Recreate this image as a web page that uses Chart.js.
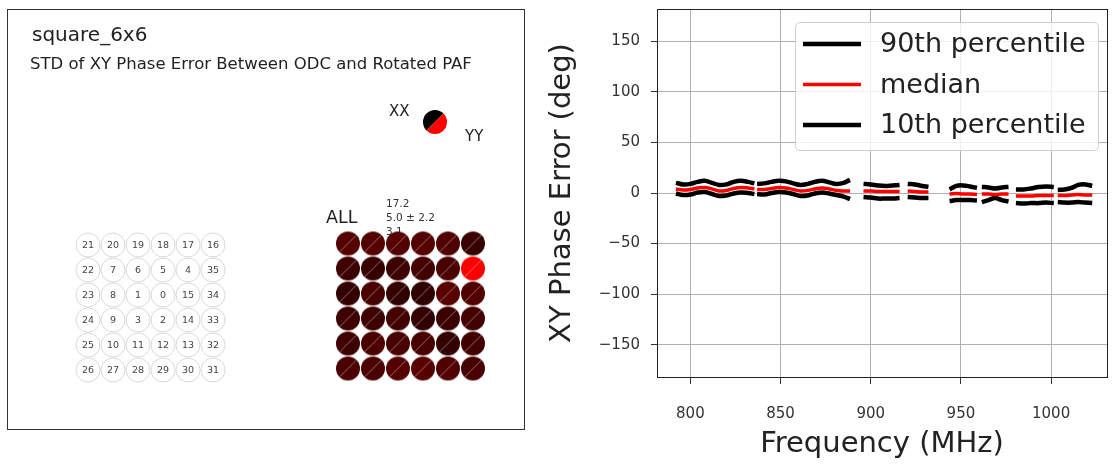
<!DOCTYPE html>
<html><head><meta charset="utf-8">
<script src="https://cdn.jsdelivr.net/npm/chart.js@4.4.0/dist/chart.umd.min.js"></script>
<style>
html,body{margin:0;padding:0;background:#fff;}
#wrap{position:relative;width:1113px;height:464px;overflow:hidden;}
#left{position:absolute;left:0;top:0;width:540px;height:464px;}
#right{position:absolute;left:540px;top:0;width:573px;height:464px;}
</style></head><body>
<div id="wrap"><div id="left"><canvas id="c1"></canvas></div><div id="right"><canvas id="c2"></canvas></div></div>
<script>
// ---------------- data ----------------
const panelTitle = 'square_6x6';
const panelSubtitle = 'STD of XY Phase Error Between ODC and Rotated PAF';
const polLabels = ['XX', 'YY'];
const allLabel = 'ALL';
const allStats = ['17.2', '5.0 \u00b1 2.2', '3.1'];
const gridLabels = [21,20,19,18,17,16, 22,7,6,5,4,35, 23,8,1,0,15,34, 24,9,3,2,14,33, 25,10,11,12,13,32, 26,27,28,29,30,31];
const xxStd = [5.7,5.6,5.8,5.7,5.5,3.9, 4.3,3.9,4.1,4.7,5.0,17.2, 3.4,5.0,3.5,3.1,6.1,5.4, 4.1,4.3,4.7,3.5,3.9,4.7, 4.3,5.0,4.7,5.0,3.6,4.3, 5.0,5.2,5.7,6.1,5.4,4.7];
const yyStd = [5.9,5.8,5.6,5.9,5.3,3.7, 4.1,3.7,4.3,4.5,5.2,17.0, 3.6,4.8,3.3,3.3,5.9,5.6, 4.3,4.1,4.5,3.3,4.1,4.5, 4.1,5.2,4.9,4.8,3.4,4.5, 5.2,5.0,5.9,5.9,5.6,4.9];

const freq = [792,796,800,804,808,812,816,820,824,828,832,835.5, 836.3,
  837,841,845,849,853,857,861,865,869,873,877,881,885,888.5, 892,
  896,900,904,908,912,916, 918,
  920.5,924.5,928.5,932, 938,
  943.7,947.5,951.3,955.1,958.9, 960.3,
  961.6,965.3,969,972.7,976.4, 978.5,
  980.5,984.7,988.9,993.1,997.3,1001.5, 1002.6,
  1003.7,1007.5,1011.3,1015.1,1018.9,1022.8];
const p90 = [10,8.5,9,11,12,10,8,8.5,11,12,11,9.5, null,
  9,9.5,11,12,11.5,9.5,8,9,11,12,10.5,9,10,13, null,
  9,8.5,7.5,7,7.5,8, null,
  9,8.5,7,6, null,
  3.5,7,7.5,6.5,5, null,
  6,5.5,4.5,5.5,6, null,
  3.5,3.5,4.5,6,6.5,6, null,
  3,3.5,5,8,8.5,7];
const median = [4,3,3.5,5,5.5,4,2,2.5,4.5,5.5,5,4, null,
  3.5,3.5,4.5,5.5,5,3.5,2,2.5,4,5,4,2.5,2,2, null,
  2,2,1.5,1.5,1.5,1.5, null,
  2,1.5,1,1, null,
  -1,-0.5,-1,-1,-1.5, null,
  -1,-1,-1.5,-1,-1, null,
  -3,-3,-3,-2.5,-2.5,-2.5, null,
  -2.5,-2.5,-2,-1.5,-2,-2];
const p10 = [-0.5,-2,-1.5,0.5,1,-1,-3,-2.5,-0.5,0.5,0,-1, null,
  -1,-1.5,0,1,0.5,-1,-3,-2.5,-0.5,0.5,-0.5,-2,-3.5,-6, null,
  -4,-4.5,-5.5,-5.5,-5.5,-5, null,
  -4,-4.5,-5,-5, null,
  -8,-7,-7,-7,-7.5, null,
  -9,-7,-5,-7,-8.5, null,
  -10,-10.5,-10,-10,-9.5,-10, null,
  -9,-9.5,-9.5,-9,-9.5,-10];
const seriesNames = ['90th percentile', 'median', '10th percentile'];
const seriesColors = ['#000000', '#ff0000', '#000000'];
const xTicks = [800, 850, 900, 950, 1000];
const yTicks = [-150, -100, -50, 0, 50, 100, 150];
const xTitle = 'Frequency (MHz)';
const yTitle = 'XY Phase Error (deg)';

// ---------------- helpers ----------------
const FONT = 'DejaVu Sans';
Chart.defaults.font.family = FONT;
const vmax = Math.max(...xxStd, ...yyStd);
function heat(v) { const r = Math.round(255 * v / vmax); return 'rgb(' + r + ',0,0)'; }
function splitDisc(c1, c2, r, sep) {
  const s = 2 * r + 2; const cv = document.createElement('canvas'); cv.width = s; cv.height = s;
  const g = cv.getContext('2d'); const c = s / 2;
  g.fillStyle = c1; g.beginPath(); g.moveTo(c, c); g.arc(c, c, r, 0.75 * Math.PI, 1.75 * Math.PI); g.closePath(); g.fill();
  g.fillStyle = c2; g.beginPath(); g.moveTo(c, c); g.arc(c, c, r, -0.25 * Math.PI, 0.75 * Math.PI); g.closePath(); g.fill();
  if (sep) { g.strokeStyle = sep; g.lineWidth = 0.8; g.beginPath(); g.moveTo(c - r * 0.7071, c + r * 0.7071); g.lineTo(c + r * 0.7071, c - r * 0.7071); g.stroke(); }
  return cv;
}

// ---------------- left panel ----------------
const cols = 6;
const rightOffset = 10.4;
const leftPts = gridLabels.map((_, i) => ({ x: i % cols, y: Math.floor(i / cols) }));
const rightPts = gridLabels.map((_, i) => ({ x: i % cols + rightOffset, y: Math.floor(i / cols) - 0.06 }));
const discImgs = xxStd.map((v, i) => splitDisc(heat(v), heat(yyStd[i]), 12, 'rgba(255,255,255,0.25)'));
const keyDisc = splitDisc('#000', '#ff0000', 12, null);

const leftDecor = {
  id: 'leftDecor',
  beforeDatasetsDraw(chart) {
    const ctx = chart.ctx;
    ctx.save();
    ctx.strokeStyle = '#333'; ctx.lineWidth = 1;
    ctx.strokeRect(7.5, 9.5, 517, 420);
    ctx.fillStyle = '#222'; ctx.textBaseline = 'alphabetic'; ctx.textAlign = 'left';
    ctx.font = '20px "' + FONT + '"'; ctx.fillText(panelTitle, 32, 41);
    ctx.font = '16.5px "' + FONT + '"'; ctx.fillText(panelSubtitle, 30, 69);
    ctx.font = '15px "' + FONT + '"'; ctx.fillText(polLabels[0], 389, 116);
    ctx.fillText(polLabels[1], 465, 141);
    ctx.font = '17.5px "' + FONT + '"'; ctx.fillText(allLabel, 326, 223);
    ctx.font = '10.5px "' + FONT + '"'; ctx.fillStyle = '#333'; ctx.textBaseline = 'middle';
    allStats.forEach((t, i) => ctx.fillText(t, 386, 204 + i * 14));
    ctx.restore();
  },
  afterDatasetsDraw(chart) {
    const ctx = chart.ctx;
    ctx.save();
    ctx.font = '9.5px "' + FONT + '"'; ctx.fillStyle = '#444';
    ctx.textAlign = 'center'; ctx.textBaseline = 'middle';
    chart.getDatasetMeta(0).data.forEach((pt, i) => ctx.fillText(String(gridLabels[i]), pt.x, pt.y + 0.5));
    const kx = chart.scales.x.getPixelForValue(13.88), ky = chart.scales.y.getPixelForValue(-4.92);
    ctx.drawImage(keyDisc, kx - keyDisc.width / 2, ky - keyDisc.height / 2);
    ctx.restore();
  }
};

new Chart(document.getElementById('c1'), {
  type: 'scatter',
  data: { datasets: [
    { label: 'element', data: leftPts, pointRadius: 12, pointHoverRadius: 12, pointBackgroundColor: '#ffffff', pointBorderColor: '#d8d8d8', pointBorderWidth: 1 },
    { label: 'XX / YY STD', data: rightPts, pointStyle: discImgs, pointRadius: 12, pointHoverRadius: 12 }
  ] },
  options: {
    responsive: true, maintainAspectRatio: false, animation: false, devicePixelRatio: 1, events: [],
    layout: { padding: 0, autoPadding: false },
    plugins: { legend: { display: false }, tooltip: { enabled: false } },
    scales: {
      x: { type: 'linear', display: false, min: -3.52, max: 18.08 },
      y: { type: 'linear', display: false, min: -9.8, max: 8.76, reverse: true }
    }
  },
  plugins: [leftDecor]
});

// ---------------- right panel ----------------
const mk = arr => freq.map((f, i) => ({ x: f, y: arr[i] }));
const rightDecor = {
  id: 'rightDecor',
  afterDraw(chart) {
    const ctx = chart.ctx, a = chart.chartArea;
    ctx.save();
    ctx.strokeStyle = '#222'; ctx.lineWidth = 1;
    ctx.strokeRect(Math.round(a.left) + 0.5, Math.round(a.top) + 0.5, Math.round(a.right - a.left), Math.round(a.bottom - a.top));
    // legend
    const bx = 255.5, by = 22.5, bw = 303, bh = 128, r = 5;
    ctx.beginPath();
    ctx.moveTo(bx + r, by); ctx.lineTo(bx + bw - r, by); ctx.quadraticCurveTo(bx + bw, by, bx + bw, by + r);
    ctx.lineTo(bx + bw, by + bh - r); ctx.quadraticCurveTo(bx + bw, by + bh, bx + bw - r, by + bh);
    ctx.lineTo(bx + r, by + bh); ctx.quadraticCurveTo(bx, by + bh, bx, by + bh - r);
    ctx.lineTo(bx, by + r); ctx.quadraticCurveTo(bx, by, bx + r, by); ctx.closePath();
    ctx.fillStyle = 'rgba(255,255,255,0.8)'; ctx.fill();
    ctx.strokeStyle = '#d0d0d0'; ctx.stroke();
    ctx.font = '27px "' + FONT + '"'; ctx.textBaseline = 'middle'; ctx.textAlign = 'left';
    chart.data.datasets.forEach((ds, i) => {
      const y = 44 + i * 40.5;
      ctx.strokeStyle = ds.borderColor; ctx.lineWidth = ds.borderWidth;
      ctx.beginPath(); ctx.moveTo(263, y); ctx.lineTo(321, y); ctx.stroke();
      ctx.fillStyle = '#222'; ctx.fillText(ds.label, 340, y + 1);
    });
    ctx.restore();
  }
};

new Chart(document.getElementById('c2'), {
  type: 'line',
  data: { datasets: seriesNames.map((n, i) => ({
    label: n, data: mk([p90, median, p10][i]), borderColor: seriesColors[i],
    borderWidth: i === 1 ? 3.5 : 4.5, pointRadius: 0, tension: 0.4, spanGaps: false, fill: false,
    borderCapStyle: 'butt'
  })) },
  options: {
    responsive: true, maintainAspectRatio: false, animation: false, devicePixelRatio: 1, events: [],
    layout: { padding: { top: 9, right: 6, left: 0, bottom: 0 }, autoPadding: false },
    plugins: { legend: { display: false }, tooltip: { enabled: false } },
    scales: {
      x: {
        type: 'linear', min: 781.5, max: 1031,
        afterBuildTicks: s => { s.ticks = xTicks.map(v => ({ value: v })); },
        afterFit: s => { s.height = 87; s.paddingLeft = 0; s.paddingRight = 0; },
        ticks: { font: { size: 15 }, color: '#333', padding: 21, maxRotation: 0, autoSkip: false, callback: v => String(v) },
        grid: { color: '#b0b0b0', lineWidth: 1, tickColor: '#333', tickLength: 7 },
        border: { color: '#222' },
        title: { display: true, text: xTitle, font: { size: 29 }, color: '#222', padding: { top: 0, bottom: 2 } }
      },
      y: {
        type: 'linear', min: -182, max: 182,
        afterBuildTicks: s => { s.ticks = yTicks.map(v => ({ value: v })); },
        afterFit: s => { s.width = 117; s.paddingTop = 0; s.paddingBottom = 0; },
        ticks: { font: { size: 15 }, color: '#333', padding: 11, callback: v => String(v).replace('-', '\u2212') },
        grid: { color: '#b0b0b0', lineWidth: 1, tickColor: '#333', tickLength: 6 },
        border: { color: '#222' },
        title: { display: true, text: yTitle, font: { size: 29 }, color: '#222', padding: { top: 5, bottom: 0 } }
      }
    }
  },
  plugins: [rightDecor]
});
</script>
</body></html>
